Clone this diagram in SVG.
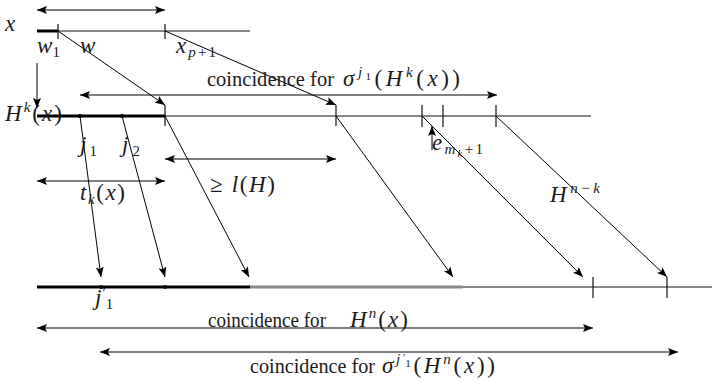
<svg xmlns="http://www.w3.org/2000/svg" width="712" height="381" viewBox="0 0 712 381">
<defs>
<marker id="ah" viewBox="0 0 10 8" refX="10" refY="4" markerWidth="10" markerHeight="8" markerUnits="userSpaceOnUse" orient="auto-start-reverse">
<path d="M0,0 L10,4 L0,8 L2,4 Z" fill="#000"/>
</marker>
</defs>
<style>
.t{font-family:"Liberation Serif",serif;font-size:21px;fill:#1a1a1a}
.m{font-size:23px}
.i{font-style:italic}
.s{font-size:15px}
.ss{font-size:11px}
.ln{stroke:#111;stroke-width:1.2;fill:none}
.th{stroke:#000;stroke-width:3;fill:none}
.gr{stroke:#888;stroke-width:3;fill:none}
.tk{stroke:#111;stroke-width:1.2}
.ar{stroke:#000;stroke-width:1;fill:none;marker-end:url(#ah)}
.da{stroke:#000;stroke-width:1.2;fill:none;marker-start:url(#ah);marker-end:url(#ah)}
</style>
<g id="line-x">
<line class="ln" x1="37" y1="31" x2="250" y2="31"/>
<line class="th" x1="37" y1="31" x2="58" y2="31"/>
<line class="tk" x1="58" y1="24" x2="58" y2="39"/>
<line class="tk" x1="165" y1="24" x2="165" y2="39"/>
<text class="t m i" x="5" y="31">x</text>
<text class="t m" x="37" y="53" textLength="23" lengthAdjust="spacing"><tspan class="i">w</tspan><tspan class="s" dy="4">1</tspan></text>
<text class="t m i" x="80" y="53">w</text>
<text class="t m" x="176" y="53" textLength="40" lengthAdjust="spacing"><tspan class="i">x</tspan><tspan class="s i" dy="4">p</tspan><tspan class="s">+1</tspan></text>
</g>
<g id="line-Hk">
<line class="ln" x1="37" y1="116" x2="591" y2="116"/>
<line class="th" x1="37" y1="116" x2="165" y2="116"/>
<line class="tk" x1="165" y1="105" x2="165" y2="126"/>
<line class="tk" x1="336" y1="105" x2="336" y2="126"/>
<line class="tk" x1="422" y1="105" x2="422" y2="127"/>
<line class="tk" x1="443" y1="105" x2="443" y2="127"/>
<line class="tk" x1="496" y1="105" x2="496" y2="127"/>
<circle cx="80" cy="116" r="2" fill="#000"/>
<circle cx="122" cy="116" r="2" fill="#000"/>
<text class="t m" x="5" y="121" textLength="57" lengthAdjust="spacing"><tspan class="i">H</tspan><tspan class="s i" dy="-9">k</tspan><tspan dy="9">(</tspan><tspan class="i">x</tspan><tspan>)</tspan></text>
<text class="t m" x="80" y="152" textLength="17" lengthAdjust="spacing"><tspan class="i">j</tspan><tspan class="s" dy="4">1</tspan></text>
<text class="t m" x="122" y="152" textLength="18" lengthAdjust="spacing"><tspan class="i">j</tspan><tspan class="s" dy="4">2</tspan></text>
<text class="t m" x="432" y="150" textLength="51" lengthAdjust="spacing"><tspan class="i">e</tspan><tspan class="s i" dy="4">m</tspan><tspan class="ss i" dy="3">k</tspan><tspan class="s" dy="-3">+1</tspan></text>
</g>
<g id="line-Hn">
<line class="ln" x1="37" y1="287" x2="712" y2="287"/>
<line class="gr" x1="250" y1="287" x2="463" y2="287"/>
<line class="th" x1="37" y1="287" x2="250" y2="287"/>
<line class="tk" x1="593" y1="277" x2="593" y2="298"/>
<line class="tk" x1="667" y1="277" x2="667" y2="298"/>
<circle cx="101" cy="287" r="2" fill="#000"/>
<circle cx="165" cy="287" r="2" fill="#000"/>
<text class="t m" x="95" y="305"><tspan class="i">j</tspan><tspan class="s" dx="1" dy="-7">′</tspan><tspan class="s" dx="0" dy="11">1</tspan></text>
</g>
<g id="connectors">
<line class="da" x1="37" y1="10" x2="165" y2="10"/>
<line class="ar" x1="58" y1="31" x2="165" y2="105"/>
<line class="ar" x1="165" y1="31" x2="336" y2="105"/>
<line class="ar" x1="37" y1="63" x2="37" y2="108"/>
<line class="da" x1="80" y1="95" x2="497" y2="95"/>
<line class="da" x1="165" y1="159" x2="336" y2="159"/>
<line class="da" x1="37" y1="181" x2="165" y2="181"/>
<line class="ar" x1="432" y1="150" x2="432" y2="126"/>
<line class="ar" x1="80" y1="116" x2="101" y2="277"/>
<line class="ar" x1="122" y1="116" x2="165" y2="277"/>
<line class="ar" x1="165" y1="116" x2="249" y2="277"/>
<line class="ar" x1="336" y1="116" x2="453" y2="277"/>
<line class="ar" x1="422" y1="116" x2="583" y2="277"/>
<line class="ar" x1="496" y1="116" x2="667" y2="277"/>
<line class="da" x1="37" y1="328" x2="593" y2="328"/>
<line class="da" x1="100" y1="352" x2="678" y2="352"/>
</g>
<g id="labels">
<text class="t" x="207" y="86" textLength="127" lengthAdjust="spacingAndGlyphs">coincidence for</text>
<text class="t m" x="343" y="86" textLength="117" lengthAdjust="spacing"><tspan class="i">σ</tspan><tspan class="s i" dy="-9">j</tspan><tspan class="ss" dy="3">1</tspan><tspan dy="6">(</tspan><tspan class="i">H</tspan><tspan class="s i" dy="-9">k</tspan><tspan dy="9">(</tspan><tspan class="i">x</tspan>))</text>
<text class="t m" x="210" y="192" textLength="65" lengthAdjust="spacing">≥ <tspan class="i">l</tspan>(<tspan class="i">H</tspan>)</text>
<text class="t m" x="80" y="200" textLength="45" lengthAdjust="spacing"><tspan class="i">t</tspan><tspan class="s i" dy="4">k</tspan><tspan dy="-4">(</tspan><tspan class="i">x</tspan>)</text>
<text class="t m" x="550" y="202" textLength="50" lengthAdjust="spacing"><tspan class="i">H</tspan><tspan class="s i" dy="-9">n</tspan><tspan class="s">−</tspan><tspan class="s i">k</tspan></text>
<text class="t" x="208" y="327" textLength="118" lengthAdjust="spacingAndGlyphs">coincidence for</text>
<text class="t m" x="350" y="327" textLength="58" lengthAdjust="spacing"><tspan class="i">H</tspan><tspan class="s i" dy="-9">n</tspan><tspan dy="9">(</tspan><tspan class="i">x</tspan>)</text>
<text class="t" x="250" y="373" textLength="125" lengthAdjust="spacingAndGlyphs">coincidence for</text>
<text class="t m" x="382" y="373" textLength="113" lengthAdjust="spacing"><tspan class="i">σ</tspan><tspan class="s i" dy="-9">j</tspan><tspan class="ss" dy="-3">′</tspan><tspan class="ss" dx="-3" dy="6">1</tspan><tspan dy="6">(</tspan><tspan class="i">H</tspan><tspan class="s i" dy="-9">n</tspan><tspan dy="9">(</tspan><tspan class="i">x</tspan>))</text>
</g>
</svg>
